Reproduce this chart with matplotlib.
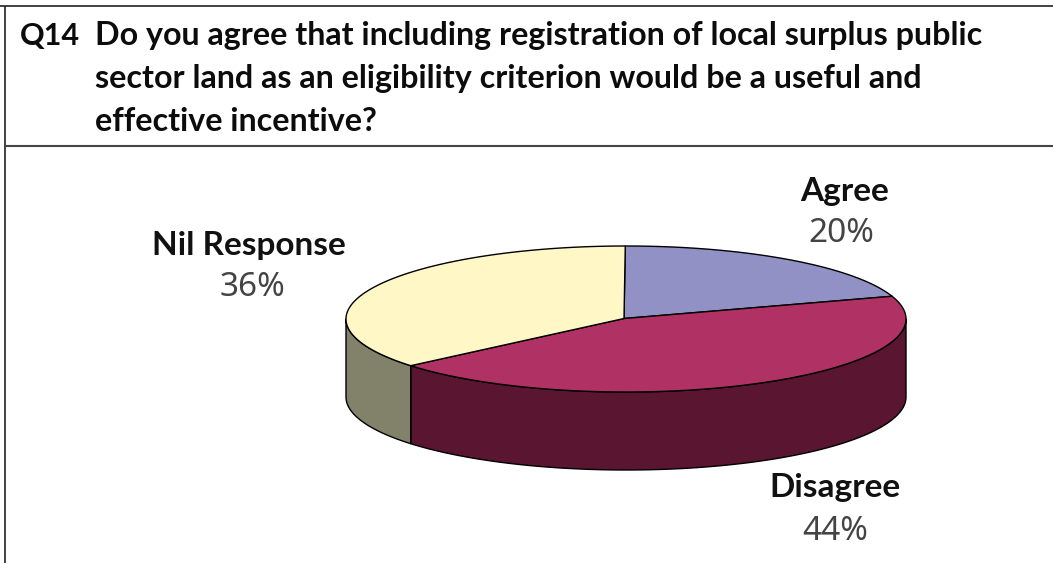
import numpy as np
import matplotlib
matplotlib.use("Agg")
import matplotlib.pyplot as plt
from matplotlib.patches import Polygon

categories = ["Agree", "Disagree", "Nil Response"]
shares = [20, 44, 36]
top_colors = ["#9191C6", "#B03265", "#FFF8C6"]
side_colors = ["#494963", "#5A1530", "#82826A"]
question_no = "Q14"
question_lines = [
    "Do you agree that including registration of local surplus public",
    "sector land as an eligibility criterion would be a useful and",
    "effective incentive?",
]

W, H = 1053, 563
CX, CY, RX, RY, DEPTH = 626, 319, 280, 73, 78
APEX = (624, 318.5)
FIRST_TURN = np.radians(-0.15)

fig = plt.figure(figsize=(W / 100, H / 100), dpi=100, facecolor="white")
ax = fig.add_axes([0, 0, 1, 1])
ax.set_xlim(0, W)
ax.set_ylim(H, 0)
ax.axis("off")

# Frame around the question block
frame = dict(color="#222222", lw=1.2, solid_capstyle="butt")
ax.plot([0, W], [5.5, 5.5], **frame)
ax.plot([4.5, 4.5], [5.5, H], **frame)
ax.plot([4.5, W], [145.5, 145.5], color="#444444", lw=1.5)

title_font = dict(family="Lato", weight="bold", color="#0c0c0c", va="baseline")
ax.text(20, 45, question_no, fontsize=22, **title_font)
for row, line in zip((45, 88, 131), question_lines):
    ax.text(95, row, line, fontsize=23.2, **title_font)


def rim(turn):
    """Points on the top ellipse, with turn running clockwise from 12 o'clock."""
    return np.c_[CX + RX * np.sin(turn), CY - RY * np.cos(turn)]


edges = FIRST_TURN + 2 * np.pi * np.cumsum([0] + shares) / sum(shares)
outline = dict(edgecolor="black", linewidth=1.0, joinstyle="round")

# Side walls: only the part of each slice facing the viewer (lower half of the rim)
for start, end, side in zip(edges[:-1], edges[1:], side_colors):
    a, b = max(start, np.pi / 2), min(end, 3 * np.pi / 2)
    if b <= a:
        continue
    arc = rim(np.linspace(a, b, 200))
    wall = np.r_[arc, (arc + [0, DEPTH])[::-1]]
    ax.add_patch(Polygon(wall, closed=True, facecolor=side, zorder=2, **outline))

# Top face of the pie
for start, end, top in zip(edges[:-1], edges[1:], top_colors):
    arc = rim(np.linspace(start, end, 300))
    ax.add_patch(Polygon(np.r_[[APEX], arc], closed=True, facecolor=top, zorder=3, **outline))

# Slice labels: name in bold with the share underneath
name_pos = {"Agree": (845, 191), "Disagree": (835, 487), "Nil Response": (249, 246)}
share_pos = {"Agree": (841, 233), "Disagree": (835, 532), "Nil Response": (252, 287)}
for name, share in zip(categories, shares):
    ax.text(*name_pos[name], name, ha="center", va="center", family="Lato", weight="bold",
            fontsize=24, color="#111111")
    ax.text(*share_pos[name], f"{share}%", ha="center", va="center", family="Noto Sans",
            fontsize=24, color="#444444")

fig.savefig("out.png", dpi=100, facecolor="white")
